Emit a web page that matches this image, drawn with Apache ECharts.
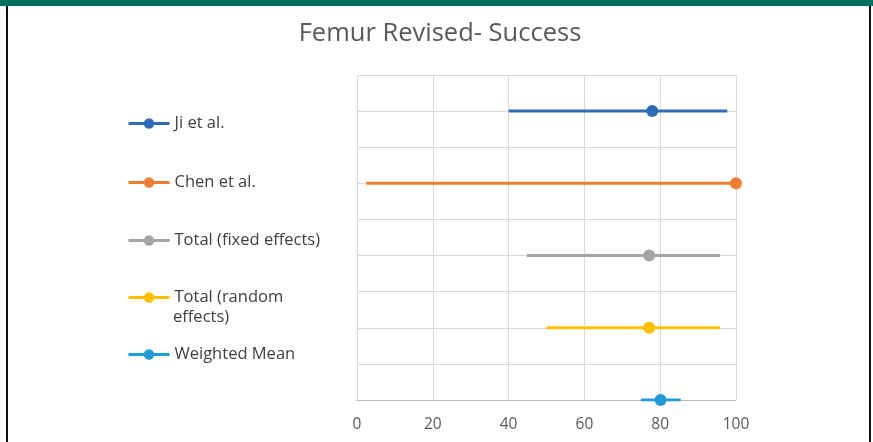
<!DOCTYPE html>
<html>
<head>
<meta charset="utf-8">
<script src="https://cdn.jsdelivr.net/npm/echarts@6/dist/echarts.min.js"></script>
<style>
  html, body { margin: 0; padding: 0; background: #fff; }
  #frame { position: relative; width: 873px; height: 442px; overflow: hidden; }
  #band { position: absolute; left: 0; top: 0; width: 873px; height: 6px; background: #00705f; }
  #lb { position: absolute; left: 6px; top: 6px; width: 2px; height: 436px; background: #111; }
  #rb { position: absolute; left: 869px; top: 6px; width: 2px; height: 436px; background: #111; }
  #chart { position: absolute; left: 0; top: 0; width: 873px; height: 442px; }
</style>
</head>
<body>
<div id="frame">
  <div id="chart"></div>
  <div id="band"></div>
  <div id="lb"></div>
  <div id="rb"></div>
</div>
<script>
// Forest plot: study names, row positions, lower bound, point estimate, upper bound
var names = ['Ji et al.', 'Chen et al.', 'Total (fixed effects)', 'Total (random effects)', 'Weighted Mean'];
var rows = [8, 6, 4, 2, 0];
var lower = [40, 2.4, 44.8, 50, 74.9];
var point = [77.9, 100, 77.1, 77.1, 80.1];
var upper = [97.7, 100, 95.8, 95.8, 85.4];
var colors = ['#2e6cb5', '#ed7d31', '#a5a5a5', '#ffc000', '#1f9bd8'];
var xTicks = [0, 20, 40, 60, 80, 100];

var fontFam = '"Open Sans", Lato, sans-serif';
var chart = echarts.init(document.getElementById('chart'));

// legend rows placed one by one, Excel spacing is uneven
var legendTops = [115, 174, 232, 289, 346];
var legends = names.map(function (n, i) {
    var lg = {
        data: [n],
        orient: 'vertical',
        left: 127,
        top: legendTops[i],
        padding: 0,
        itemWidth: 41,
        itemHeight: 13,
        itemGap: 0,
        selectedMode: false,
        lineStyle: { width: 3 },
        textStyle: { fontFamily: fontFam, fontSize: 16.5, color: '#404040' }
    };
    if (i === 3) {
        lg.formatter = function () { return 'Total (random'; };
    }
    return lg;
});

var series = names.map(function (n, i) {
    return {
        name: n,
        type: 'line',
        color: colors[i],
        symbol: 'circle',
        symbolSize: 12,
        lineStyle: { width: 3, color: colors[i] },
        itemStyle: { color: colors[i] },
        emphasis: { disabled: true },
        z: 3,
        data: [
            { value: [lower[i], rows[i]], symbol: 'none' },
            { value: [point[i], rows[i]] },
            { value: [upper[i], rows[i]], symbol: 'none' }
        ]
    };
});

var option = {
    animation: false,
    title: {
        text: 'Femur Revised- Success',
        left: 435,
        top: 16,
        textAlign: 'center',
        textStyle: { fontFamily: fontFam, fontSize: 25.5, fontWeight: 'normal', color: '#595959' }
    },
    legend: legends,
    graphic: [{
        type: 'text',
        left: 173,
        top: 309,
        style: { text: 'effects)', fontFamily: fontFam, fontSize: 16.5, fill: '#404040' }
    }],
    grid: { left: 357, right: 137, top: 75, bottom: 42 },
    xAxis: {
        type: 'value',
        min: 0,
        max: 100,
        interval: 20,
        axisLine: { show: true, lineStyle: { color: '#bfbfbf', width: 1 } },
        axisTick: { show: false },
        axisLabel: {
            margin: 17,
            fontFamily: fontFam,
            fontSize: 15.5,
            color: '#595959',
            formatter: function (v) { return xTicks.indexOf(v) >= 0 ? String(v) : ''; }
        },
        splitLine: { show: true, lineStyle: { color: '#d9d9d9', width: 1 } }
    },
    yAxis: {
        type: 'value',
        min: 0,
        max: 9,
        interval: 1,
        axisLine: { show: false },
        axisTick: { show: false },
        axisLabel: { show: false },
        splitLine: { show: true, lineStyle: { color: '#d9d9d9', width: 1 } }
    },
    series: series
};
chart.setOption(option);
</script>
</body>
</html>
